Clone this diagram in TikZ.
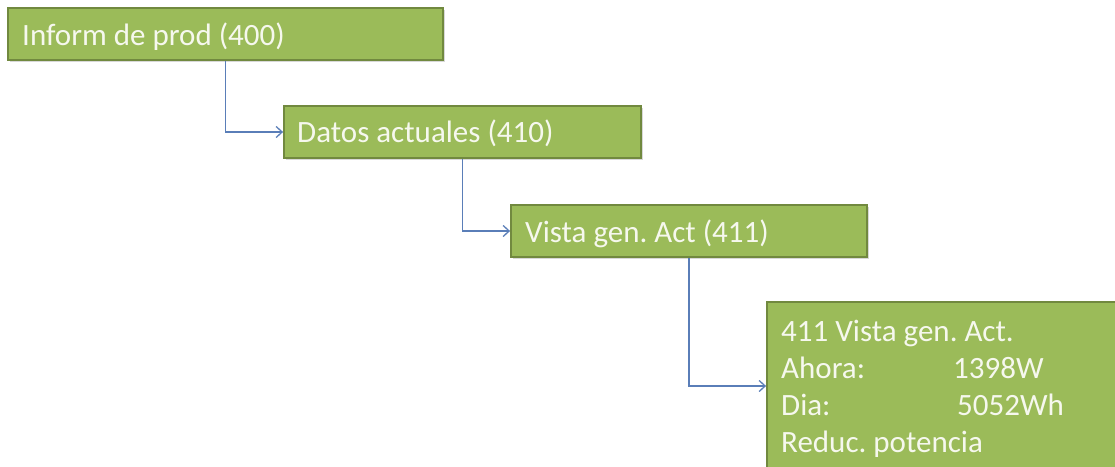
\documentclass[tikz,border=0pt]{standalone}
\usepackage{fontspec}
\setmainfont{Carlito}
\usetikzlibrary{arrows.meta,shadows}
\definecolor{boxfill}{HTML}{9BBB59}
\definecolor{boxline}{HTML}{71893F}
\definecolor{conncol}{HTML}{5A7EB8}
\definecolor{txtcol}{HTML}{F6F8EE}
\frenchspacing
\begin{document}
\begin{tikzpicture}[x=1pt,y=-1pt,
  box/.style={draw=boxline, line width=1.8pt, fill=boxfill, rectangle, inner sep=0pt,
    drop shadow={opacity=0.3, shadow xshift=1.5pt, shadow yshift=-2pt}},
  lbl/.style={anchor=base west, inner sep=0pt, text=txtcol, font=\fontsize{31}{36}\selectfont},
  conn/.style={draw=conncol, line width=1.3pt, -{Straight Barb[length=6pt,width=11pt]}}]
\clip (0,0) rectangle (1115,466);
\fill[white] (0,0) rectangle (1115,466);
\node[box, minimum width=435pt, minimum height=52pt] (b1) at (225.5,34) {};
\node[box, minimum width=357pt, minimum height=52pt] (b2) at (462.5,132) {};
\node[box, minimum width=356pt, minimum height=52pt] (b3) at (689,231) {};
\node[box, minimum width=358pt, minimum height=168pt] (b4) at (946,386) {};
\draw[conn] (b1.south) |- (b2.west);
\draw[conn] (b2.south) |- (b3.west);
\draw[conn] (b3.south) |- (b4.west);
\node[lbl] (t1) at (22,45) {Inform de prod (400)};
\node[lbl] (t2) at (297,142.5) {Datos actuales (410)};
\node[lbl] (t3) at (525,242) {Vista gen. Act (411)};
\node[lbl] (r1) at (781,341) {411 Vista gen. Act.};
\node[lbl] (r2) at (781,378) {Ahora:};
\node[lbl] (v2) at (953,378) {1398W};
\node[lbl] (r3) at (781,415) {Dia:};
\node[lbl] (v3) at (957,415) {5052Wh};
\node[lbl] (r4) at (781,452) {Reduc. potencia};
\end{tikzpicture}
\end{document}
